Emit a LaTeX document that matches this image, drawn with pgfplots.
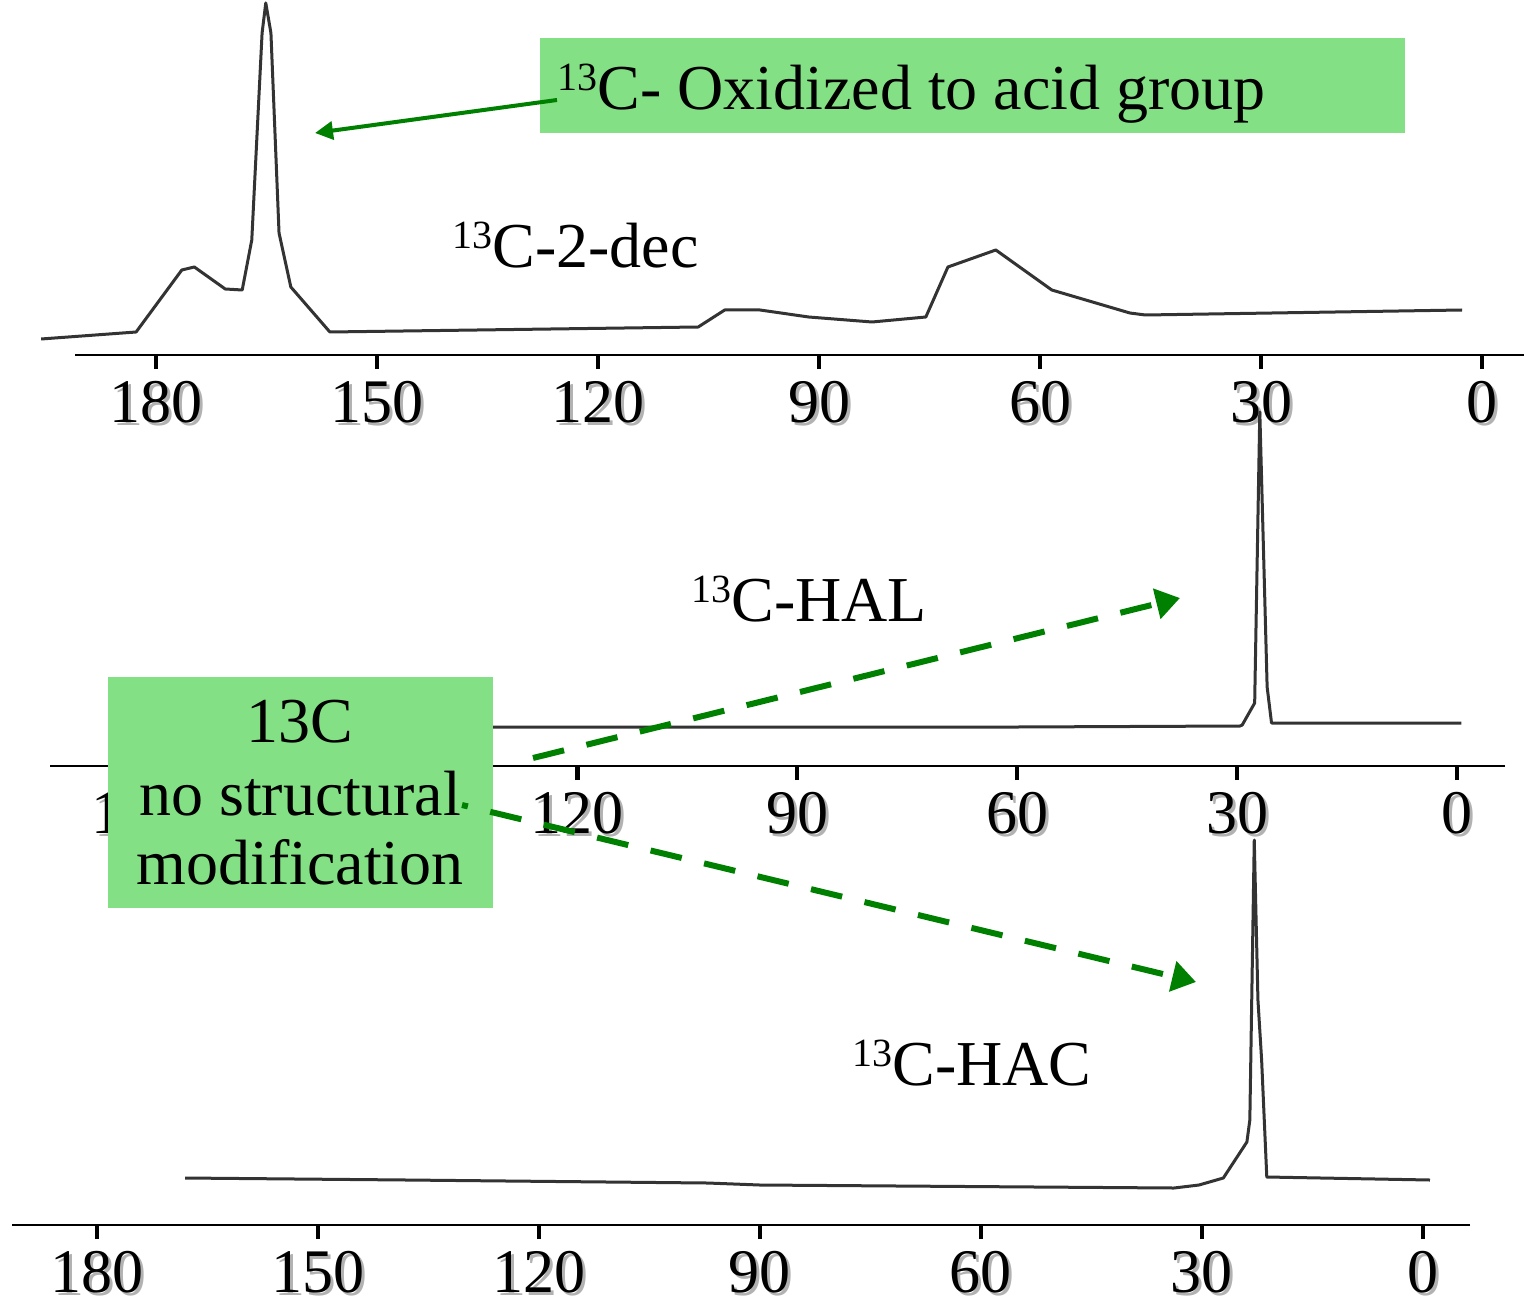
\documentclass[border=0pt]{standalone}
\usepackage{pgfplots}
\pgfplotsset{compat=1.18}
\usepackage{fontspec}
\setmainfont{Liberation Serif}
\usetikzlibrary{arrows.meta}
\definecolor{boxgreen}{RGB}{132,224,132}
\definecolor{arrgreen}{RGB}{0,128,0}
\newcommand{\sh}[1]{\makebox[0pt][l]{\textcolor{black!30}{\kern1.5pt\raisebox{-1.5pt}{#1}}}#1}
\newcommand{\sups}[1]{\raisebox{9.5pt}{\fontsize{20}{20}\selectfont #1}}
\pgfplotsset{spec/.style={
  scale only axis, clip=false, x dir=reverse,
  axis x line=bottom, axis y line=none,
  axis line style={-, line width=1.1pt},
  ymin=0,
  xtick={0,30,60,90,120,150,180},
  xticklabels={\sh{0},\sh{30},\sh{60},\sh{90},\sh{120},\sh{150},\sh{180}},
  ytick=\empty,
  tick align=outside, major tick length=7pt,
  tick style={line width=2.2pt, black},
  xticklabel style={font=\fontsize{31}{31}\selectfont, inner sep=6pt},
  anchor=south west}}
\begin{document}
\begin{tikzpicture}
\path[use as bounding box] (0pt,0pt) rectangle (762pt,-652pt);
% top spectrum: 13C-2-dec
\begin{axis}[spec, at={(37.5pt,-177.5pt)}, width=724.5pt, height=177.5pt,
  xmin=-5.7, xmax=191.0, ymax=355]
\addplot[black!80, line width=1.5pt, line join=round] coordinates {
(195.6,16) (182.7,23) (176.5,85) (174.8,88) (170.6,66) (168.3,65) (167.0,115)
(165.6,322) (165.1,352) (164.4,322) (163.3,122) (161.7,68) (156.4,23)
(106.4,28) (102.8,45) (98.0,45) (91.4,38) (82.8,33) (75.5,38) (72.5,88)
(66.0,105) (58.4,65) (47.8,42) (45.7,40) (2.7,45)};
\end{axis}
% middle spectrum: 13C-HAL
\begin{axis}[spec, at={(25pt,-383pt)}, width=727.5pt, height=200pt,
  xmin=-6.55, xmax=191.95, ymax=400]
\addplot[black!80, line width=1.5pt, line join=round] coordinates {
(172.9,41) (131.5,39) (60,39) (29.6,40) (29.3,41) (27.6,63) (26.9,354)
(25.9,79) (25.3,43) (-0.6,43)};
\end{axis}
% bottom spectrum: 13C-HAC
\begin{axis}[spec, at={(6pt,-612.5pt)}, width=729pt, height=200pt,
  xmin=-6.38, xmax=191.5, ymax=400]
\addplot[black!80, line width=1.5pt, line join=round] coordinates {
(168.0,47) (137.9,45) (97.1,42) (90.0,40) (33.8,37) (30.4,40) (27.1,47) (23.9,83)
(23.5,105) (22.9,385) (22.4,225) (21.9,165) (21.2,48) (-0.95,45)};
\end{axis}
\begin{scope}[x=0.5pt, y=-0.5pt, font=\fontsize{32}{38}\selectfont]
% top annotation
\fill[boxgreen] (540,38) rectangle (1405,133);
\node[anchor=base west, inner sep=0pt] at (557,110) {\sups{13}C- Oxidized to acid group};
\draw[arrgreen, line width=2pt, -{Triangle[length=9pt,width=9pt]}] (557,100) -- (315,133);
% labels
\node[anchor=base west, inner sep=0pt] at (452,268) {\sups{13}C-2-dec};
\node[anchor=base west, inner sep=0pt] at (691,621) {\sups{13}C-HAL};
\node[anchor=base west, inner sep=0pt] at (852,1085) {\sups{13}C-HAC};
% lower box
\fill[boxgreen] (108,677) rectangle (493,908);
\node[anchor=base, inner sep=0pt] at (300,742) {13C};
\node[anchor=base, inner sep=0pt] at (300,815) {no structural};
\node[anchor=base, inner sep=0pt] at (300,884) {modification};
% dashed arrows
\draw[arrgreen, line width=3pt, dash pattern=on 16pt off 11.5pt,
  -{Triangle[length=12pt,width=15pt]}] (533,758) -- (1180,598);
\draw[arrgreen, line width=3pt, dash pattern=on 16pt off 11.5pt, dash phase=13pt,
  -{Triangle[length=12pt,width=15pt]}] (462,805) -- (1196,982);
\end{scope}
\end{tikzpicture}
\end{document}
